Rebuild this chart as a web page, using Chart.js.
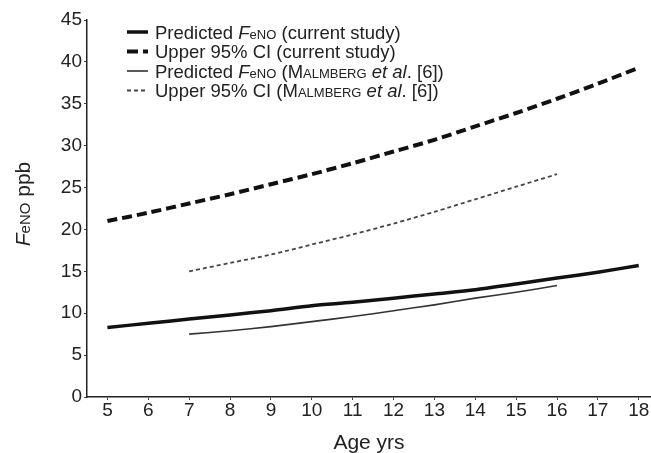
<!DOCTYPE html>
<html>
<head>
<meta charset="utf-8">
<script src="https://cdn.jsdelivr.net/npm/chart.js@4.4.1/dist/chart.umd.min.js"></script>
<style>
  html, body { margin: 0; padding: 0; background: #fff; }
  canvas { display: block; }
</style>
</head>
<body>
<canvas id="grafico" width="651" height="453"></canvas>
<script>
// datos
const edades = [5, 6, 7, 8, 9, 10, 11, 12, 13, 14, 15, 16, 17, 18]
const predActual = [8.3, 8.8, 9.3, 9.8, 10.3, 10.9, 11.3, 11.8, 12.3, 12.8, 13.5, 14.2, 14.9, 15.7]
const upperActual = [21.0, 22.0, 23.1, 24.2, 25.4, 26.6, 27.9, 29.3, 30.7, 32.3, 33.9, 35.6, 37.4, 39.3]

const edadesMalmberg = [7, 8, 9, 10, 11, 12, 13, 14, 15, 16]
const predMalmberg = [7.5, 7.9, 8.4, 9.0, 9.6, 10.3, 11.0, 11.8, 12.5, 13.3]
const upperMalmberg = [15.0, 16.0, 17.0, 18.2, 19.4, 20.7, 22.1, 23.6, 25.1, 26.6]

const ticksX = [5, 6, 7, 8, 9, 10, 11, 12, 13, 14, 15, 16, 17, 18]
const ticksY = [0, 5, 10, 15, 20, 25, 30, 35, 40, 45]

const FONT = "'Liberation Sans', Arial, sans-serif"
const TXT = '#222'

const toPoints = (xs, ys) => xs.map((x, i) => ({ x: x, y: ys[i] }))

// partes del texto (italica / versalitas)
const norm = (t, s = 18.5) => ({ t, f: `${s}px ${FONT}` })
const ital = (t, s = 18.5) => ({ t, f: `italic ${s}px ${FONT}` })
const small = (t, s = 13) => ({ t, f: `${s}px ${FONT}` })
const feno = [ital('F'), small('eNO')]
const malm = [norm('M'), small('ALMBERG'), norm(' '), ital('et al'), norm('. [6])')]

const leyenda = [
  [norm('Predicted '), ...feno, norm(' (current study)')],
  [norm('Upper 95% CI (current study)')],
  [norm('Predicted '), ...feno, norm(' ('), ...malm],
  [norm('Upper 95% CI ('), ...malm]
]
const dashLeyenda = [[], [11, 5], [], [4, 3]]

const drawRich = (ctx, parts, x, y) => {
  ctx.textBaseline = 'alphabetic'
  ctx.textAlign = 'left'
  parts.forEach((p) => {
    ctx.font = p.f
    ctx.fillText(p.t, x, y)
    x += ctx.measureText(p.t).width
  })
}
const richWidth = (ctx, parts) => parts.reduce((w, p) => {
  ctx.font = p.f
  return w + ctx.measureText(p.t).width
}, 0)

const extras = {
  id: 'extras',
  afterDraw(chart) {
    const ctx = chart.ctx
    ctx.save()
    ctx.fillStyle = TXT
    // leyenda
    leyenda.forEach((parts, i) => {
      const ds = chart.data.datasets[i]
      const y = 32 + i * 19.5
      ctx.beginPath()
      ctx.setLineDash(dashLeyenda[i])
      ctx.strokeStyle = ds.borderColor
      ctx.lineWidth = ds.borderWidth
      ctx.moveTo(127, y)
      ctx.lineTo(148, y)
      ctx.stroke()
      ctx.setLineDash([])
      drawRich(ctx, parts, 155, y + 6.5)
    })
    // titulo eje y
    const titulo = [ital('F', 21), small('eNO', 15), norm(' ppb', 21)]
    const w = richWidth(ctx, titulo)
    ctx.translate(30, 204)
    ctx.rotate(-Math.PI / 2)
    drawRich(ctx, titulo, -w / 2, 0)
    ctx.restore()
  }
}

const config = {
  type: 'line',
  data: {
    datasets: [
      {
        label: 'Predicted FeNO (current study)',
        data: toPoints(edades, predActual),
        borderColor: '#111',
        borderWidth: 3.5
      },
      {
        label: 'Upper 95% CI (current study)',
        data: toPoints(edades, upperActual),
        borderColor: '#111',
        borderWidth: 4,
        borderDash: [10, 5]
      },
      {
        label: 'Predicted FeNO (Malmberg et al. [6])',
        data: toPoints(edadesMalmberg, predMalmberg),
        borderColor: '#333',
        borderWidth: 1.6
      },
      {
        label: 'Upper 95% CI (Malmberg et al. [6])',
        data: toPoints(edadesMalmberg, upperMalmberg),
        borderColor: '#444',
        borderWidth: 1.8,
        borderDash: [4, 3]
      }
    ]
  },
  options: {
    responsive: false,
    animation: false,
    layout: { padding: { top: 20, right: 0, left: 0, bottom: 0 } },
    elements: {
      point: { radius: 0 },
      line: { tension: 0.3, fill: false }
    },
    plugins: {
      legend: { display: false },
      tooltip: { enabled: false }
    },
    scales: {
      x: {
        type: 'linear',
        min: 4.5,
        max: 18.3,
        afterBuildTicks: (scale) => { scale.ticks = ticksX.map((v) => ({ value: v })) },
        afterFit: (scale) => { scale.height = 56 },
        border: { display: true, color: '#222', width: 1.5 },
        grid: { drawOnChartArea: false, color: '#444', tickLength: 3 },
        ticks: { color: TXT, font: { family: FONT, size: 19 }, padding: -1, maxRotation: 0 },
        title: { display: true, text: 'Age yrs', color: TXT, font: { family: FONT, size: 21 }, padding: { top: 0, bottom: -3 } }
      },
      y: {
        min: 0,
        max: 45,
        afterBuildTicks: (scale) => { scale.ticks = ticksY.map((v) => ({ value: v })) },
        afterFit: (scale) => { scale.width = 87 },
        border: { display: true, color: '#222', width: 1.5 },
        grid: { drawOnChartArea: false, color: '#444', tickLength: 3 },
        ticks: { color: TXT, font: { family: FONT, size: 19 }, padding: 2 }
      }
    }
  },
  plugins: [extras]
}

const chartjs = new Chart(document.getElementById('grafico'), config)
</script>
</body>
</html>
